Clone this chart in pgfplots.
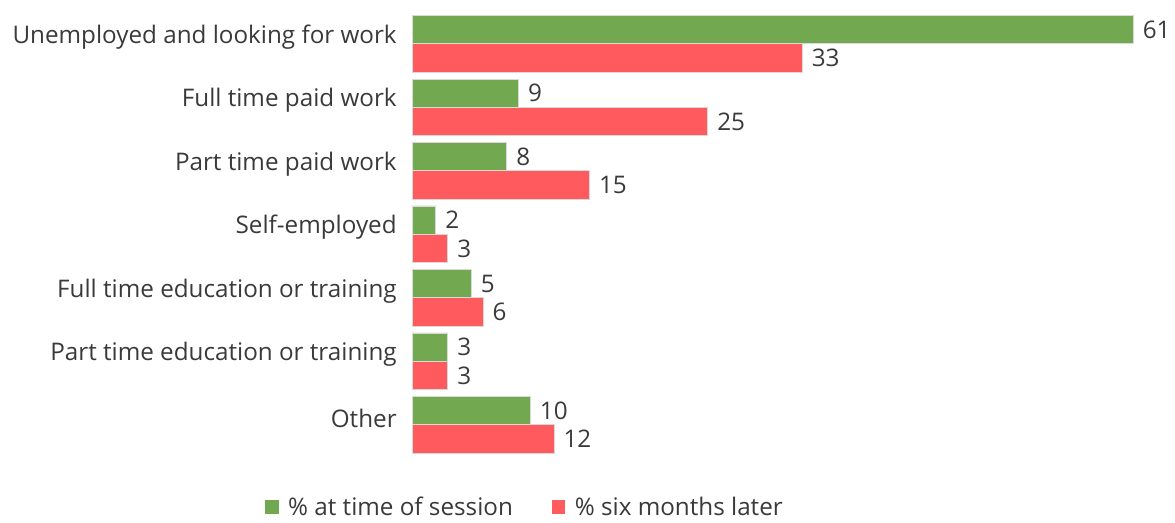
\documentclass[border=0pt]{standalone}
\usepackage{fontspec}
\setmainfont{Open Sans}
\usepackage{pgfplots}
\pgfplotsset{compat=1.18}

\definecolor{grn}{HTML}{72A84F}
\definecolor{rd}{HTML}{FF5A5E}
\definecolor{txt}{HTML}{3A3A3A}

\begin{document}
\begin{tikzpicture}
\begin{axis}[
    xbar,
    scale only axis,
    width=535.5pt, height=330pt,
    xmin=0, xmax=61,
    ymin=-0.5, ymax=6.5,
    bar width=21pt,
    axis line style={draw=none},
    xtick=\empty,
    ytick={0,1,2,3,4,5,6},
    yticklabels={Other, Part time education or training, Full time education or training, Self-employed, Part time paid work, Full time paid work, Unemployed and looking for work},
    major tick length=0pt,
    yticklabel style={font=\fontsize{18}{20}\selectfont, text=txt, xshift=-8pt, yshift=5pt},
    clip=false,
    /pgf/number format/assume math mode=true,
    nodes near coords,
    nodes near coords style={font=\fontsize{18}{20}\selectfont, text=txt, xshift=3.5pt},
    every axis plot/.append style={draw=white!85!black, line width=0.6pt},
    legend style={at={(0.157,-0.114)}, anchor=center, draw=none, font=\fontsize{18}{20}\selectfont, text=txt,
        legend columns=2,
        /tikz/every odd column/.append style={column sep=5pt},
        /tikz/every even column/.append style={column sep=27pt}},
    legend image code/.code={\fill[#1, draw=none] (0pt,-5pt) rectangle (10pt,5pt);},
]
\addplot[fill=grn, bar shift=10.5pt] coordinates {(61,6) (9,5) (8,4) (2,3) (5,2) (3,1) (10,0)};
\addplot[fill=rd, bar shift=-10.5pt] coordinates {(33,6) (25,5) (15,4) (3,3) (6,2) (3,1) (12,0)};
\legend{\% at time of session, \% six months later}
\path (rel axis cs:0,1) -- ++(0pt,9pt);
\end{axis}
\path ([xshift=-6pt]current bounding box.west);
\end{tikzpicture}
\end{document}
